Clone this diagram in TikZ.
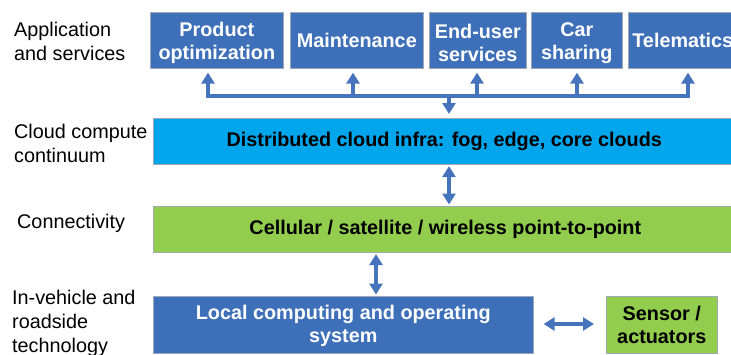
\documentclass[tikz,border=0pt]{standalone}
\usepackage{fontspec}
\setmainfont{Liberation Sans}
\usetikzlibrary{arrows.meta}
\definecolor{boxblue}{HTML}{3E6FB9}
\definecolor{cloudblue}{HTML}{00A6EC}
\definecolor{lgreen}{HTML}{92CD4E}
\definecolor{arrblue}{HTML}{4674BC}
\definecolor{edgegray}{HTML}{A0A8B8}
\tikzset{
  lbl/.style={anchor=north west, align=left, inner sep=0pt, font=\fontsize{19.8}{24}\selectfont},
  bx/.style={anchor=north west, draw=edgegray, line width=0.6pt, inner sep=0pt, align=center,
             font=\fontsize{19.8}{23}\selectfont\bfseries},
  appbox/.style={bx, fill=boxblue, text=white, minimum height=56pt},
  boxtext/.style={inner sep=0pt, align=center, text=white, font=\fontsize{19.8}{23}\selectfont\bfseries},
  arr/.style={draw=arrblue, line width=3.6pt, -{Triangle[width=13pt,length=11pt]}, shorten >=4pt},
  darr/.style={draw=arrblue, line width=3.6pt, {Triangle[width=13pt,length=11pt]}-{Triangle[width=13pt,length=11pt]}, shorten >=1.5pt, shorten <=1.5pt},
  busline/.style={draw=arrblue, line width=3.6pt}
}
\begin{document}
\begin{tikzpicture}[x=1pt,y=-1pt]
\useasboundingbox (0,0) rectangle (731,354);
\clip (0,0) rectangle (731,354);
% left labels
\node[lbl] (l1) at (14,22) {Application\\and services};
\node[lbl] (l2) at (14,124) {Cloud compute\\continuum};
\node[lbl] (l3) at (17,214) {Connectivity};
\node[lbl] (l4) at (12,290) {In-vehicle and\\roadside\\technology};
% top boxes
\node[appbox, minimum width=133pt] (po) at (150,12) {};
\node[boxtext] (pot) at ([yshift=-2.5pt]po.center) {Product\\optimization};
\node[appbox, minimum width=133pt] (mt) at (290,12) {Maintenance};
\node[appbox, minimum width=97pt] (eu) at (429,12) {};
\node[boxtext] (eut) at ([yshift=-2.5pt]eu.center) {End-user\\services};
\node[appbox, minimum width=91pt] (cs) at (531,12) {};
\node[boxtext] (cst) at ([yshift=-2.5pt]cs.center) {Car\\sharing};
\node[appbox, minimum width=115pt, text width=115pt] (tm) at (628,12) {\hspace*{-6pt}Telematics};
% cloud
\node[bx, fill=cloudblue, text=black, minimum width=590pt, minimum height=46pt] (cloud) at (153,118) {\hspace*{-8pt}Distributed cloud infra: fog, edge, core clouds};
% connectivity
\node[bx, fill=lgreen, text=black, minimum width=590pt, minimum height=46pt] (conn) at (153,206) {\hspace*{-6pt}Cellular / satellite / wireless point-to-point};
% local
\node[appbox, minimum width=380pt, minimum height=57pt] (local) at (153,296) {};
\node[boxtext] (localt) at ([yshift=-1.5pt]local.center) {Local computing and operating\\system};
\node[bx, fill=lgreen, text=black, minimum width=111pt, minimum height=57pt] (sens) at (606,296) {Sensor /\\actuators};
% bus
\coordinate (b1) at (208,96);
\coordinate (b2) at (353,96);
\coordinate (b3) at (477,96);
\coordinate (b4) at (577,96);
\coordinate (b5) at (688,96);
\coordinate (bd) at (449,96);
\draw[busline, line cap=butt] ([xshift=-1.8pt]b1) -- ([xshift=1.8pt]b5);
\draw[arr] ([yshift=1.8pt]b1) -- (b1 |- po.south);
\draw[arr] (b2) -- (b2 |- mt.south);
\draw[arr] (b3) -- (b3 |- eu.south);
\draw[arr] (b4) -- (b4 |- cs.south);
\draw[arr] ([yshift=1.8pt]b5) -- (b5 |- tm.south);
\draw[arr] (bd) -- (bd |- cloud.north);
% vertical double arrows
\coordinate (v1) at (449,0);
\coordinate (v2) at (376,0);
\draw[darr] (v1 |- cloud.south) -- (v1 |- conn.north);
\draw[darr] (v2 |- conn.south) -- (v2 |- local.north);
\draw[darr, shorten >=12pt, shorten <=10pt] (local.east |- 0,324) -- (sens.west |- 0,324);
\end{tikzpicture}
\end{document}
